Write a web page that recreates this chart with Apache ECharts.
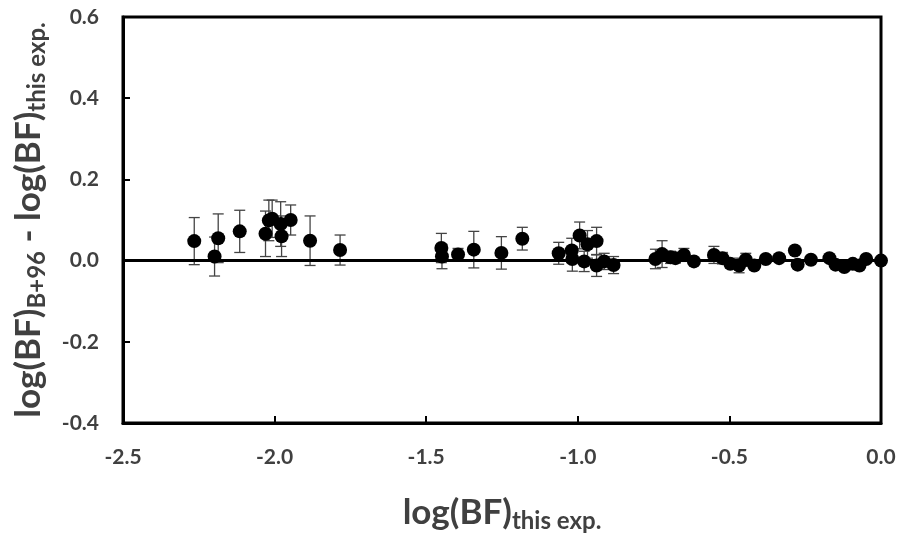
<!DOCTYPE html>
<html>
<head>
<meta charset="utf-8">
<script src="https://cdn.jsdelivr.net/npm/echarts@6/dist/echarts.min.js"></script>
<style>
  html, body { margin: 0; padding: 0; background: #fff; }
  #main { width: 905px; height: 546px; }
</style>
</head>
<body>
<div id="main"></div>
<script>
var chartDom = document.getElementById("main");
var myChart = echarts.init(chartDom);
var option;

// log(BF) this exp. (x), difference B+96 - this exp. (y), error bar half-length
const xVals = [
  -2.265, -2.198, -2.186, -2.115, -2.030, -2.019, -2.008, -1.980, -1.977, -1.947,
  -1.883, -1.784, -1.450, -1.448, -1.395, -1.343, -1.252, -1.183, -1.063, -1.020,
  -1.018, -0.994, -0.968, -0.979, -0.938, -0.938, -0.913, -0.882, -0.744, -0.722,
  -0.694, -0.678, -0.650, -0.617, -0.551, -0.523, -0.497, -0.468, -0.446, -0.418,
  -0.380, -0.336, -0.284, -0.275, -0.231, -0.170, -0.150, -0.121, -0.093, -0.071,
  -0.049, 0.000
];
const yVals = [
  0.048, 0.010, 0.055, 0.072, 0.066, 0.099, 0.103, 0.090, 0.060, 0.100,
  0.049, 0.026, 0.031, 0.010, 0.015, 0.027, 0.019, 0.054, 0.018, 0.025,
  0.004, 0.062, 0.040, -0.002, 0.048, -0.012, -0.002, -0.011, 0.004, 0.016,
  0.008, 0.006, 0.014, -0.002, 0.014, 0.006, -0.008, -0.012, 0.002, -0.012,
  0.004, 0.006, 0.025, -0.010, 0.002, 0.006, -0.010, -0.016, -0.008, -0.012,
  0.004, 0.000
];
const errVals = [
  0.058, 0.048, 0.060, 0.052, 0.056, 0.050, 0.046, 0.055, 0.050, 0.037,
  0.061, 0.037, 0.036, 0.030, 0.015, 0.045, 0.040, 0.028, 0.027, 0.030,
  0.030, 0.033, 0.034, 0.025, 0.034, 0.027, 0.020, 0.021, 0.024, 0.033,
  0.015, 0.012, 0.016, 0.008, 0.021, 0.014, 0.010, 0.018, 0.016, 0.008,
  0.006, 0.008, 0.006, 0.006, 0.005, 0.005, 0.005, 0.005, 0.005, 0.005,
  0.005, 0.003
];

const xTicks = { min: -2.5, max: 0, interval: 0.5 };
const yTicks = { min: -0.4, max: 0.6, interval: 0.2 };

const points = xVals.map((x, i) => [x, yVals[i]]);
const errData = xVals.map((x, i) => [x, yVals[i] - errVals[i], yVals[i] + errVals[i]]);

const font = 'Lato, "Open Sans", sans-serif';
const textColor = "#404040";

function titleRich() {
  return {
    m: { fontSize: 35, fontWeight: "bold", fontFamily: font, color: textColor, verticalAlign: "bottom", padding: [0, 0, 3, 0] },
    s: { fontSize: 24, fontWeight: "bold", fontFamily: font, color: textColor, verticalAlign: "bottom" },
  };
}
function tickLabel() {
  return {
    margin: 24,
    fontSize: 21,
    fontWeight: "bold",
    fontFamily: font,
    color: textColor,
    formatter: (v) => v.toFixed(1),
  };
}

option = {
  animation: false,
  grid: {
    left: 123,
    right: 24,
    top: 17,
    bottom: 123,
    show: true,
    borderColor: "#000",
    borderWidth: 3,
  },
  xAxis: {
    type: "value",
    min: xTicks.min,
    max: xTicks.max,
    interval: xTicks.interval,
    axisLine: { show: true, onZero: false, lineStyle: { color: "#000", width: 3 } },
    axisTick: { show: true, inside: true, length: 7, lineStyle: { color: "#000", width: 2 } },
    splitLine: { show: false },
    axisLabel: tickLabel(),
    name: "{m|log(BF)}{s|this exp.}",
    nameLocation: "middle",
    nameGap: 72,
    nameTextStyle: { rich: titleRich() },
  },
  yAxis: {
    type: "value",
    min: yTicks.min,
    max: yTicks.max,
    interval: yTicks.interval,
    axisLine: { show: true, onZero: false, lineStyle: { color: "#000", width: 3 } },
    axisTick: { show: true, inside: true, length: 7, lineStyle: { color: "#000", width: 2 } },
    splitLine: { show: false },
    axisLabel: tickLabel(),
    name: "{m|log(BF)}{s|B+96}{m| - log(BF)}{s|this exp.}",
    nameLocation: "middle",
    nameRotate: 90,
    nameGap: 74,
    nameTextStyle: { rich: titleRich() },
  },
  series: [
    {
      type: "custom",
      name: "err",
      data: errData,
      z: 1,
      renderItem: (params, api) => {
        const x = api.value(0);
        const lo = api.coord([x, api.value(1)]);
        const hi = api.coord([x, api.value(2)]);
        const cap = 5.5;
        const style = { stroke: "#444", lineWidth: 1.3 };
        return {
          type: "group",
          children: [
            { type: "line", shape: { x1: lo[0], y1: lo[1], x2: hi[0], y2: hi[1] }, style },
            { type: "line", shape: { x1: lo[0] - cap, y1: lo[1], x2: lo[0] + cap, y2: lo[1] }, style },
            { type: "line", shape: { x1: hi[0] - cap, y1: hi[1], x2: hi[0] + cap, y2: hi[1] }, style },
          ],
        };
      },
    },
    {
      type: "scatter",
      data: points,
      symbol: "circle",
      symbolSize: 14,
      itemStyle: { color: "#000", opacity: 1 },
      z: 3,
      markLine: {
        silent: true,
        symbol: "none",
        label: { show: false },
        lineStyle: { color: "#000", width: 3, type: "solid", opacity: 1 },
        data: [{ yAxis: 0 }],
        z: 2,
      },
    },
  ],
};

option && myChart.setOption(option);
</script>
</body>
</html>
